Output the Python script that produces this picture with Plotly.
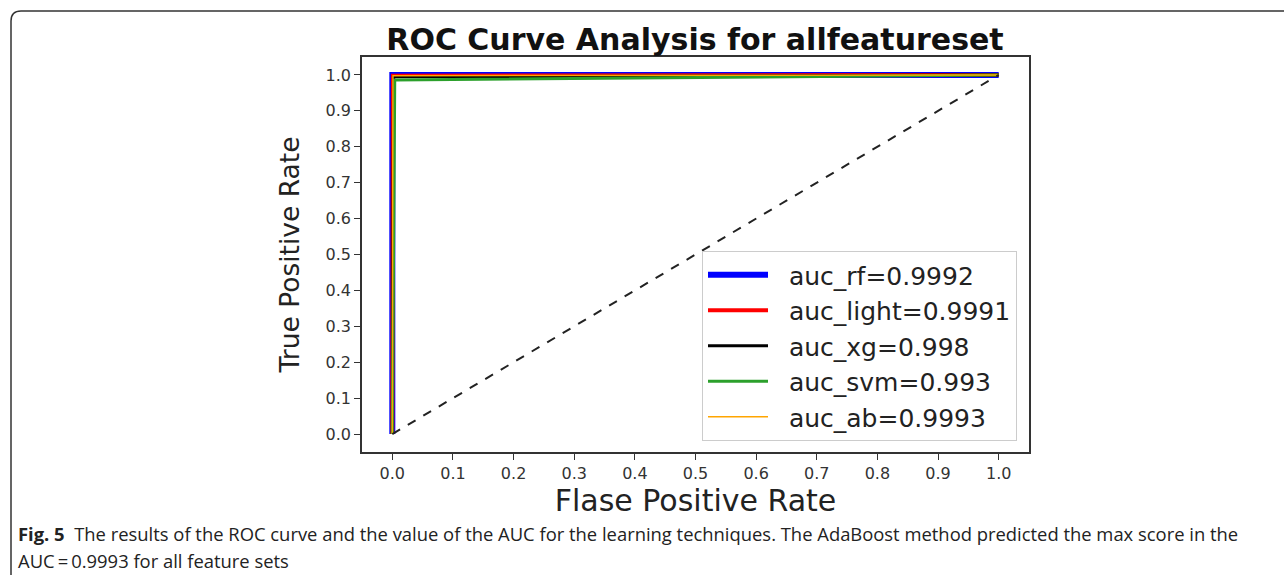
import plotly.graph_objects as go

# ---- data ----
fpr_rf = [0.0, 0.0, 1.0]
tpr_rf = [0.0, 1.0, 1.0]
fpr_light = [0.0, 0.001, 1.0]
tpr_light = [0.0, 0.998, 1.0]
fpr_xg = [0.0, 0.002, 1.0]
tpr_xg = [0.0, 0.995, 1.0]
fpr_svm = [0.0, 0.004, 1.0]
tpr_svm = [0.0, 0.986, 1.0]
fpr_ab = [0.0, 0.001, 1.0]
tpr_ab = [0.0, 0.998, 1.0]
chance = [0.0, 1.0]
labels = ["auc_rf=0.9992", "auc_light=0.9991", "auc_xg=0.998", "auc_svm=0.993", "auc_ab=0.9993"]
ticks = [round(i * 0.1, 1) for i in range(11)]

W, H = 1284, 576
L, R, T, B = 362, 1029, 57, 452

fig = go.Figure()
series = [
    (fpr_rf, tpr_rf, labels[0], "#0000ff", 6),
    (fpr_light, tpr_light, labels[1], "#ff0000", 4),
    (fpr_xg, tpr_xg, labels[2], "#000000", 3),
    (fpr_svm, tpr_svm, labels[3], "#2ca02c", 3),
    (fpr_ab, tpr_ab, labels[4], "#ffa500", 1.5),
]
for x, y, name, c, w in series:
    fig.add_trace(go.Scatter(x=x, y=y, mode="lines", name="  " + name,
                             line=dict(color=c, width=w)))
fig.add_trace(go.Scatter(x=chance, y=chance, mode="lines", showlegend=False,
                         line=dict(color="#222222", width=2, dash="dash")))

def px(xp):
    return (xp - L) / (R - L)

def py(yp):
    return (B - yp) / (B - T)

axis_common = dict(range=[-0.05, 1.05], tickvals=ticks, tickformat=".1f",
                   showgrid=False, zeroline=False, showline=True, linecolor="#333333",
                   linewidth=1.5, mirror=True, ticks="outside", ticklen=6, tickwidth=1.2,
                   tickcolor="#333333",
                   tickfont=dict(family="DejaVu Sans", size=16, color="#333333"))

fig.update_layout(
    width=W, height=H,
    margin=dict(l=L, r=W - R, t=T, b=H - B),
    paper_bgcolor="white", plot_bgcolor="white",
    title=dict(text="<b>ROC Curve Analysis for allfeatureset</b>", x=(388 + 1002) / 2 / W,
               xanchor="center", y=1 - 39 / H, yanchor="middle",
               font=dict(family="DejaVu Sans", size=30, color="#111111")),
    xaxis=dict(axis_common, title=dict(text="Flase Positive Rate", standoff=5,
                                       font=dict(family="DejaVu Sans", size=30, color="#222222"))),
    yaxis=dict(axis_common, title=dict(text="True Positive Rate", standoff=18,
                                       font=dict(family="DejaVu Sans", size=26.5, color="#222222"))),
    legend=dict(x=px(1017), xanchor="right", y=py(251), yanchor="top",
                bgcolor="white", bordercolor="#cccccc", borderwidth=1,
                font=dict(family="DejaVu Sans", size=25, color="#222222"),
                tracegroupgap=0, itemwidth=60),
    showlegend=True,
)

# outer rounded frame
r = 10
path = (f"M {px(11)},{py(575)} L {px(11)},{py(11 + r)} "
        f"Q {px(11)},{py(11)} {px(11 + r)},{py(11)} L {px(1290)},{py(11)}")
fig.add_shape(type="path", path=path, xref="paper", yref="paper",
              line=dict(color="#333333", width=1.5))

# caption
fig.add_annotation(xref="paper", yref="paper", x=px(16), y=py(533), xanchor="left", yanchor="middle",
                   showarrow=False, align="left",
                   text="<b>Fig. 5</b>  The results of the ROC curve and the value of the AUC for the learning techniques. The AdaBoost method predicted the max score in the",
                   font=dict(family="Open Sans", size=18.4, color="#222222"))
fig.add_annotation(xref="paper", yref="paper", x=px(16), y=py(560), xanchor="left", yanchor="middle",
                   showarrow=False, align="left",
                   text="AUC\u2009=\u20090.9993 for all feature sets",
                   font=dict(family="Open Sans", size=18.4, color="#222222"))

fig.write_html("out.html")
